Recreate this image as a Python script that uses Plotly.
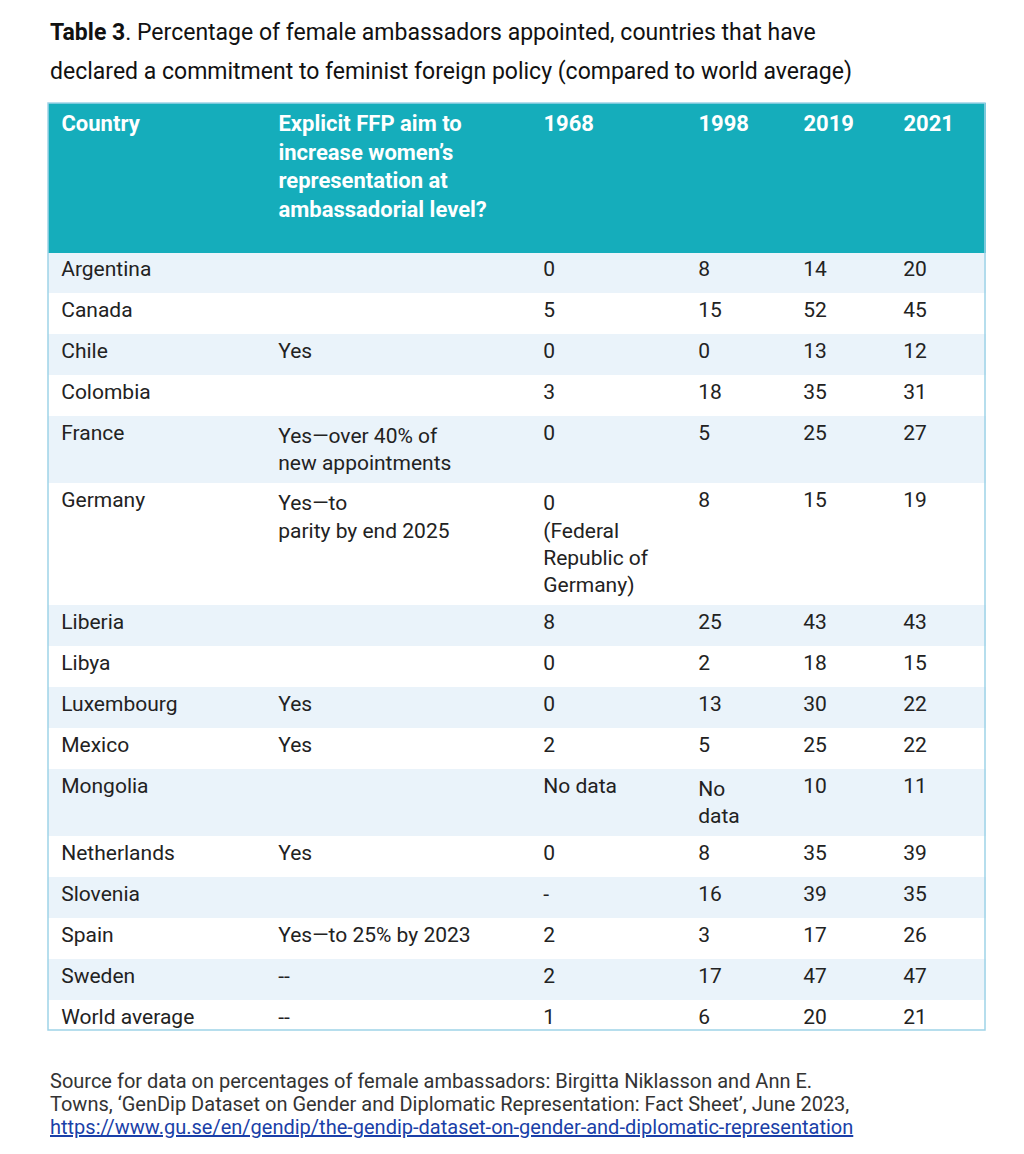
import plotly.graph_objects as go

W, H = 1024, 1154
OFF = 8  # page margin of the html body

# table data
countries = ['Argentina', 'Canada', 'Chile', 'Colombia', 'France', 'Germany', 'Liberia', 'Libya',
             'Luxembourg', 'Mexico', 'Mongolia', 'Netherlands', 'Slovenia', 'Spain', 'Sweden', 'World average']
ffp_aim = ['', '', 'Yes', '', 'Yes\u2014over 40% of<br>new appointments', 'Yes\u2014to<br>parity by end 2025',
           '', '', 'Yes', 'Yes', '', 'Yes', '', 'Yes\u2014to 25% by 2023', '--', '--']
y1968 = ['0', '5', '0', '3', '0', '0<br>(Federal<br>Republic of<br>Germany)', '8', '0', '0', '2',
         'No data', '0', '-', '2', '2', '1']
y1998 = ['8', '15', '0', '18', '5', '8', '25', '2', '13', '5', 'No<br>data', '8', '16', '3', '17', '6']
y2019 = ['14', '52', '13', '35', '25', '15', '43', '18', '30', '25', '10', '35', '39', '17', '47', '20']
y2021 = ['20', '45', '12', '31', '27', '19', '43', '15', '22', '22', '11', '39', '35', '26', '47', '21']

headers = ['Country', "Explicit FFP aim to<br>increase women\u2019s<br>representation at<br>ambassadorial level?",
           '1968', '1998', '2019', '2021']

title_lines = ['<b>Table 3</b>. Percentage of female ambassadors appointed, countries that have',
               'declared a commitment to feminist foreign policy (compared to world average)']
source_lines = ['Source for data on percentages of female ambassadors: Birgitta Niklasson and Ann E.',
                'Towns, \u2018GenDip Dataset on Gender and Diplomatic Representation: Fact Sheet\u2019, June 2023,',
                '<span style="color:#1a3fa8"><u>https://www.gu.se/en/gendip/the-gendip-dataset-on-gender-and-diplomatic-representation</u></span>']

teal = '#15adbb'
stripe = '#eaf3fa'
fills = [stripe if i % 2 == 0 else 'white' for i in range(len(countries))]


def pad(col):
    return ['\u00a0' + v.replace('<br>', '<br>\u00a0') if v else v for v in col]


x0, x1 = (48 - OFF) / W, (985 - OFF) / W
y_top, y_bot = 1 - (103 - OFF) / H, 1 - (1030 - OFF) / H

fig = go.Figure(go.Table(
    domain=dict(x=[x0, x1], y=[y_bot, y_top]),
    columnwidth=[217, 265, 155, 105, 100, 95],
    header=dict(
        values=['<b>%s</b>' % h for h in pad(headers)],
        fill_color=teal, line_color=teal, align='left', height=149,
        font=dict(family='Roboto', size=22, color='white'),
    ),
    cells=dict(
        values=[pad(c) for c in [countries, ffp_aim, y1968, y1998, y2019, y2021]],
        fill_color=[fills] * 6, line_color=[fills] * 6, align='left', height=41,
        font=dict(family='Roboto', size=21, color='#222222'),
    ),
))

# light blue frame round the table
fig.add_shape(type='rect', xref='paper', yref='paper', x0=x0, x1=x1, y0=y_bot, y1=y_top,
              line=dict(color='#9fd3e8', width=1.5))

for i, line in enumerate(title_lines):
    fig.add_annotation(
        x=(48 - OFF) / W, y=1 - (32 + 40 * i - OFF) / H, xref='paper', yref='paper',
        xanchor='left', yanchor='middle', showarrow=False,
        font=dict(family='Roboto', size=23, color='#111111'), text=line)

for i, line in enumerate(source_lines):
    fig.add_annotation(
        x=(48 - OFF) / W, y=1 - (1081 + 23 * i - OFF) / H, xref='paper', yref='paper',
        xanchor='left', yanchor='middle', showarrow=False,
        font=dict(family='Roboto', size=20, color='#333333'), text=line)

fig.update_layout(width=W, height=H, margin=dict(l=0, r=0, t=0, b=0),
                  paper_bgcolor='white', plot_bgcolor='white')

fig.write_html("out.html")
